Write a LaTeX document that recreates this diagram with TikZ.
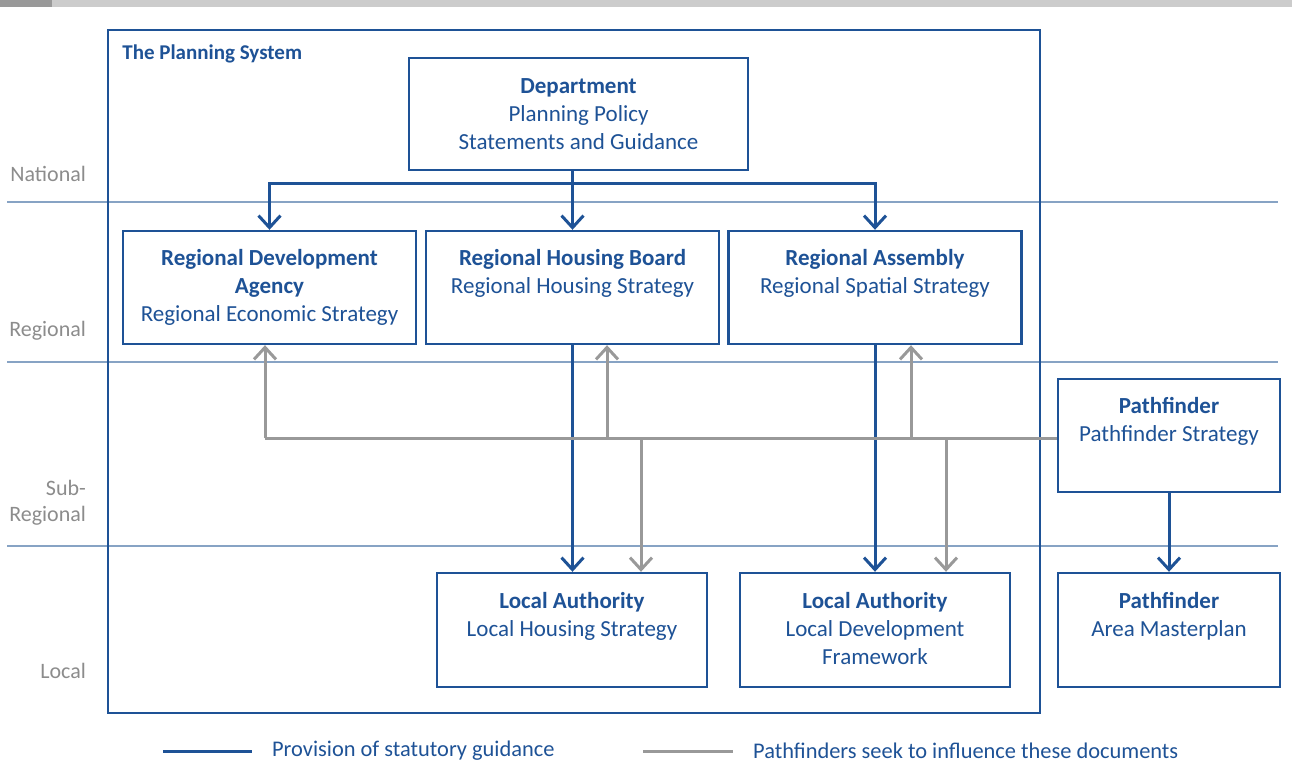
\documentclass[tikz,border=0pt]{standalone}
\usepackage{fontspec}
\setmainfont{Carlito}
\usepackage{tikz}
\usetikzlibrary{arrows.meta, calc, positioning}

\definecolor{psblue}{RGB}{30,82,150}
\definecolor{psgray}{RGB}{153,153,153}
\definecolor{pslevel}{RGB}{135,163,196}
\definecolor{pslabel}{RGB}{140,140,140}

\tikzset{
  box/.style={draw=psblue, line width=1.2pt, fill=white, align=center, text=psblue,
    font=\fontsize{11.5}{14}\selectfont, inner sep=0pt},
  guide/.style={draw=psblue, line width=1.5pt, -{Straight Barb[length=6pt, width=11pt]}},
  influence/.style={draw=psgray, line width=1.5pt, -{Straight Barb[length=6pt, width=11pt]}},
  level/.style={draw=pslevel, line width=0.8pt},
  levellabel/.style={anchor=east, text=pslabel, align=right, font=\fontsize{11}{13}\selectfont},
  keylabel/.style={right=6pt, inner ysep=1pt, text=psblue, font=\fontsize{11.2}{14}\selectfont}
}

\begin{document}
\begin{tikzpicture}[x=0.5pt, y=-0.5pt]

  \useasboundingbox (0,0) rectangle (1292,765);

  % top bar
  \fill[psgray] (0,0) rectangle (52,7);
  \fill[gray!40] (52,0) rectangle (1292,7);

  % levels
  \draw[level] (7,202) -- (1278,202);
  \draw[level] (7,362) -- (1278,362);
  \draw[level] (7,546) -- (1278,546);

  \node[levellabel] at (93,174) {National};
  \node[levellabel] at (93,331) {Regional};
  \node[levellabel] at (93,503) {Sub-\\Regional};
  \node[levellabel] at (93,671) {Local};

  % the planning system
  \draw[psblue, line width=1.2pt] (108,30) rectangle (1040,713);
  \node[anchor=west, inner sep=0pt, text=psblue, font=\fontsize{10.5}{13}\selectfont\bfseries] at (122,54) {The Planning System};

  \node[box, minimum width=169.5pt, minimum height=56pt] (dept) at (578.5,114)
    {\textbf{Department}\\Planning Policy\\Statements and Guidance};

  \node[box, minimum width=146.5pt, minimum height=56.5pt] (rda) at (269.5,287.5)
    {\textbf{Regional Development}\\\textbf{Agency}\\Regional Economic Strategy};
  \node[box, minimum width=146.5pt, minimum height=56.5pt] (rhb) at (572.5,287.5)
    {\textbf{Regional Housing Board}\\Regional Housing Strategy\\\vphantom{y}};
  \node[box, minimum width=146.5pt, minimum height=56.5pt] (ra) at (875,287.5)
    {\textbf{Regional Assembly}\\Regional Spatial Strategy\\\vphantom{y}};

  \node[box, minimum width=111pt, minimum height=56.5pt] (pf) at (1169,435.5)
    {\textbf{Pathfinder}\\Pathfinder Strategy\\\vphantom{y}};

  \node[box, minimum width=135pt, minimum height=57pt] (la1) at (572,630)
    {\textbf{Local Authority}\\Local Housing Strategy\\\vphantom{y}};
  \node[box, minimum width=135pt, minimum height=57pt] (la2) at (875,630)
    {\textbf{Local Authority}\\Local Development\\Framework\vphantom{y}};
  \node[box, minimum width=111pt, minimum height=57pt] (pf2) at (1169,630)
    {\textbf{Pathfinder}\\Area Masterplan\\\vphantom{y}};

  % statutory guidance
  \coordinate (bus) at (0,184);
  \draw[guide] (dept.south -| rhb.north) -- (rhb.north);
  \draw[guide] (bus -| rhb.north) -| (rda.north);
  \draw[guide] (bus -| rhb.north) -| (ra.north);
  \draw[guide] (rhb.south) -- (rhb.south |- la1.north);
  \draw[guide] (ra.south) -- (ra.south |- la2.north);
  \draw[guide] (pf.south) -- (pf2.north);

  % pathfinder influence
  \coordinate (hub) at (265,438);
  \coordinate (tap1) at (607,438);
  \coordinate (tap2) at (641,438);
  \coordinate (tap3) at (911,438);
  \coordinate (tap4) at (946,438);

  \draw[psgray, line width=1.5pt] (pf.west |- hub) -- (hub);
  \draw[influence] (hub) -- (hub |- rda.south);
  \draw[influence] (tap1) -- (tap1 |- rhb.south);
  \draw[influence] (tap3) -- (tap3 |- ra.south);
  \draw[influence] (tap2) -- (tap2 |- la1.north);
  \draw[influence] (tap4) -- (tap4 |- la2.north);

  % legend
  \coordinate (key1) at (163,751);
  \coordinate (key2) at (643,751);
  \draw[psblue, line width=1.5pt] (key1) -- ++(89,0)
    node[keylabel] (keytext1) {Provision of statutory guidance};
  \draw[psgray, line width=1.5pt] (key2) -- ++(90,0)
    node[keylabel] (keytext2) {Pathfinders seek to influence these documents};

\end{tikzpicture}
\end{document}
